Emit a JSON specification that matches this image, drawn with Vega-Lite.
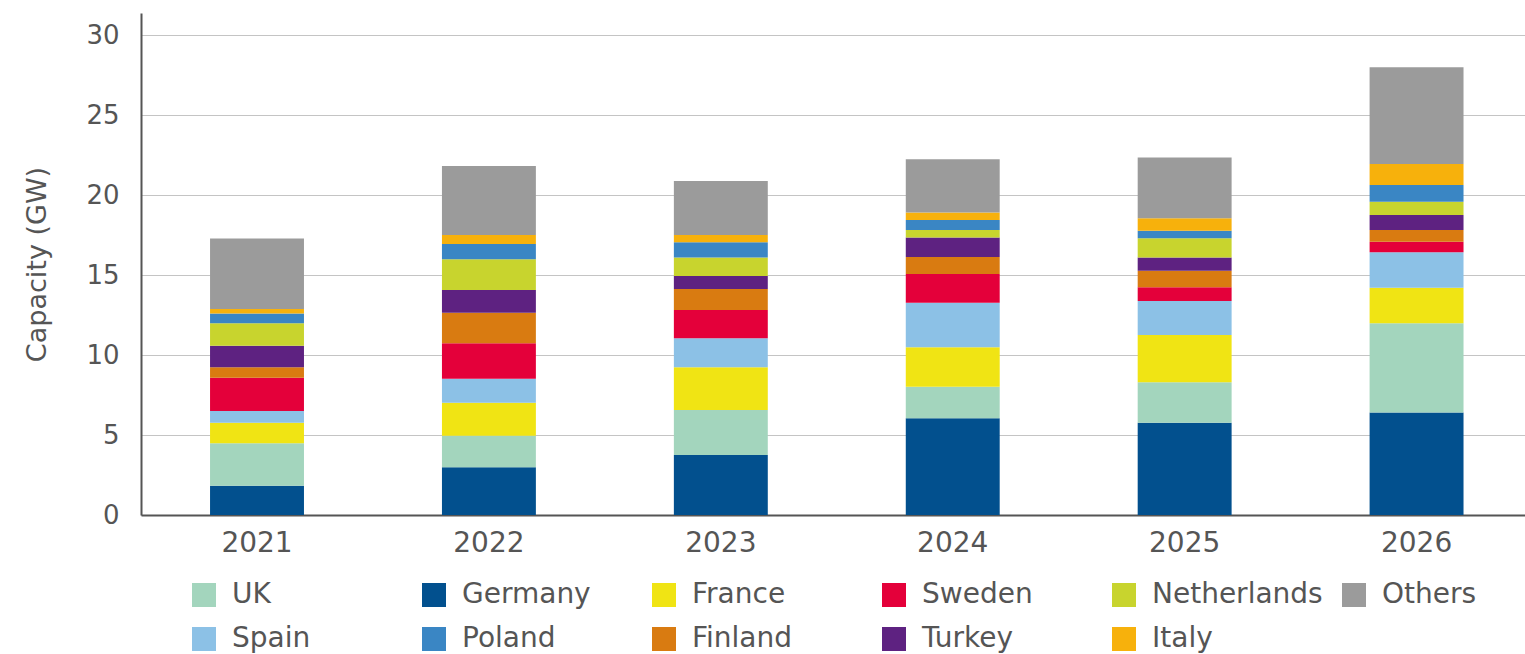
{
  "$schema": "https://vega.github.io/schema/vega-lite/v6.json",
  "width": 1384,
  "height": 502,
  "autosize": {"type": "none"},
  "padding": {"left": 141, "top": 13, "right": 0, "bottom": 139},
  "background": "white",
  "config": {"view": {"stroke": null}, "font": "DejaVu Sans"},
  "data": {"values": [
    {"year": "2021", "country": "Germany", "capacity": 1.83},
    {"year": "2021", "country": "UK", "capacity": 2.65},
    {"year": "2021", "country": "France", "capacity": 1.29},
    {"year": "2021", "country": "Spain", "capacity": 0.73},
    {"year": "2021", "country": "Sweden", "capacity": 2.08},
    {"year": "2021", "country": "Finland", "capacity": 0.65},
    {"year": "2021", "country": "Turkey", "capacity": 1.35},
    {"year": "2021", "country": "Netherlands", "capacity": 1.4},
    {"year": "2021", "country": "Poland", "capacity": 0.62},
    {"year": "2021", "country": "Italy", "capacity": 0.28},
    {"year": "2021", "country": "Others", "capacity": 4.4},
    {"year": "2022", "country": "Germany", "capacity": 2.98},
    {"year": "2022", "country": "UK", "capacity": 1.98},
    {"year": "2022", "country": "France", "capacity": 2.06},
    {"year": "2022", "country": "Spain", "capacity": 1.5},
    {"year": "2022", "country": "Sweden", "capacity": 2.21},
    {"year": "2022", "country": "Finland", "capacity": 1.91},
    {"year": "2022", "country": "Turkey", "capacity": 1.42},
    {"year": "2022", "country": "Netherlands", "capacity": 1.92},
    {"year": "2022", "country": "Poland", "capacity": 0.96},
    {"year": "2022", "country": "Italy", "capacity": 0.56},
    {"year": "2022", "country": "Others", "capacity": 4.31},
    {"year": "2023", "country": "Germany", "capacity": 3.75},
    {"year": "2023", "country": "UK", "capacity": 2.81},
    {"year": "2023", "country": "France", "capacity": 2.67},
    {"year": "2023", "country": "Spain", "capacity": 1.81},
    {"year": "2023", "country": "Sweden", "capacity": 1.77},
    {"year": "2023", "country": "Finland", "capacity": 1.32},
    {"year": "2023", "country": "Turkey", "capacity": 0.81},
    {"year": "2023", "country": "Netherlands", "capacity": 1.16},
    {"year": "2023", "country": "Poland", "capacity": 0.94},
    {"year": "2023", "country": "Italy", "capacity": 0.46},
    {"year": "2023", "country": "Others", "capacity": 3.38},
    {"year": "2024", "country": "Germany", "capacity": 6.04},
    {"year": "2024", "country": "UK", "capacity": 1.98},
    {"year": "2024", "country": "France", "capacity": 2.46},
    {"year": "2024", "country": "Spain", "capacity": 2.79},
    {"year": "2024", "country": "Sweden", "capacity": 1.79},
    {"year": "2024", "country": "Finland", "capacity": 1.07},
    {"year": "2024", "country": "Turkey", "capacity": 1.22},
    {"year": "2024", "country": "Netherlands", "capacity": 0.46},
    {"year": "2024", "country": "Poland", "capacity": 0.63},
    {"year": "2024", "country": "Italy", "capacity": 0.46},
    {"year": "2024", "country": "Others", "capacity": 3.33},
    {"year": "2025", "country": "Germany", "capacity": 5.77},
    {"year": "2025", "country": "UK", "capacity": 2.52},
    {"year": "2025", "country": "France", "capacity": 2.96},
    {"year": "2025", "country": "Spain", "capacity": 2.13},
    {"year": "2025", "country": "Sweden", "capacity": 0.85},
    {"year": "2025", "country": "Finland", "capacity": 1.04},
    {"year": "2025", "country": "Turkey", "capacity": 0.83},
    {"year": "2025", "country": "Netherlands", "capacity": 1.19},
    {"year": "2025", "country": "Poland", "capacity": 0.48},
    {"year": "2025", "country": "Italy", "capacity": 0.77},
    {"year": "2025", "country": "Others", "capacity": 3.81},
    {"year": "2026", "country": "Germany", "capacity": 6.4},
    {"year": "2026", "country": "UK", "capacity": 5.58},
    {"year": "2026", "country": "France", "capacity": 2.23},
    {"year": "2026", "country": "Spain", "capacity": 2.21},
    {"year": "2026", "country": "Sweden", "capacity": 0.66},
    {"year": "2026", "country": "Finland", "capacity": 0.73},
    {"year": "2026", "country": "Turkey", "capacity": 0.94},
    {"year": "2026", "country": "Netherlands", "capacity": 0.83},
    {"year": "2026", "country": "Poland", "capacity": 1.05},
    {"year": "2026", "country": "Italy", "capacity": 1.31},
    {"year": "2026", "country": "Others", "capacity": 6.04}
  ]},
  "transform": [
    {"calculate": "indexof(['Germany','UK','France','Spain','Sweden','Finland','Turkey','Netherlands','Poland','Italy','Others'], datum.country)", "as": "stack_rank"}
  ],
  "mark": {"type": "bar"},
  "encoding": {
    "x": {
      "field": "year", "type": "nominal",
      "scale": {"paddingInner": 0.595, "paddingOuter": 0.2814, "align": 0.529},
      "axis": {"title": null, "labelAngle": 0, "labelFontSize": 28, "labelColor": "#555555", "labelPadding": 14, "ticks": false, "domainColor": "#555555", "domainWidth": 2}
    },
    "y": {
      "field": "capacity", "type": "quantitative", "stack": "zero",
      "scale": {"domain": [0, 31.375], "nice": false, "zero": true},
      "axis": {"values": [0, 5, 10, 15, 20, 25, 30], "title": "Capacity (GW)", "titleFontSize": 27, "titleFontWeight": "normal", "titleColor": "#555555", "titlePadding": 34, "labelFontSize": 26, "labelColor": "#555555", "labelPadding": 22, "ticks": false, "domainColor": "#555555", "domainWidth": 2, "grid": true, "gridColor": "#c4c4c4", "gridWidth": 1}
    },
    "color": {
      "field": "country", "type": "nominal",
      "scale": {
        "domain": ["UK", "Germany", "France", "Sweden", "Netherlands", "Others", "Spain", "Poland", "Finland", "Turkey", "Italy"],
        "range": ["#a3d5bd", "#02508e", "#f0e414", "#e4003a", "#c8d42e", "#9b9b9b", "#8cc1e6", "#3a86c4", "#d97b11", "#5e2281", "#f7b10c"]
      },
      "legend": {
        "title": null, "orient": "none", "legendX": 49, "legendY": 568, "direction": "horizontal", "columns": 6, "gridAlign": "all",
        "symbolType": "square", "symbolSize": 576, "symbolStrokeWidth": 0, "symbolOpacity": 1,
        "labelFontSize": 28, "labelColor": "#555555", "labelOffset": 14, "rowPadding": 16, "columnPadding": 17, "labelLimit": 300
      }
    },
    "order": {"field": "stack_rank", "type": "quantitative", "sort": "ascending"}
  }
}
